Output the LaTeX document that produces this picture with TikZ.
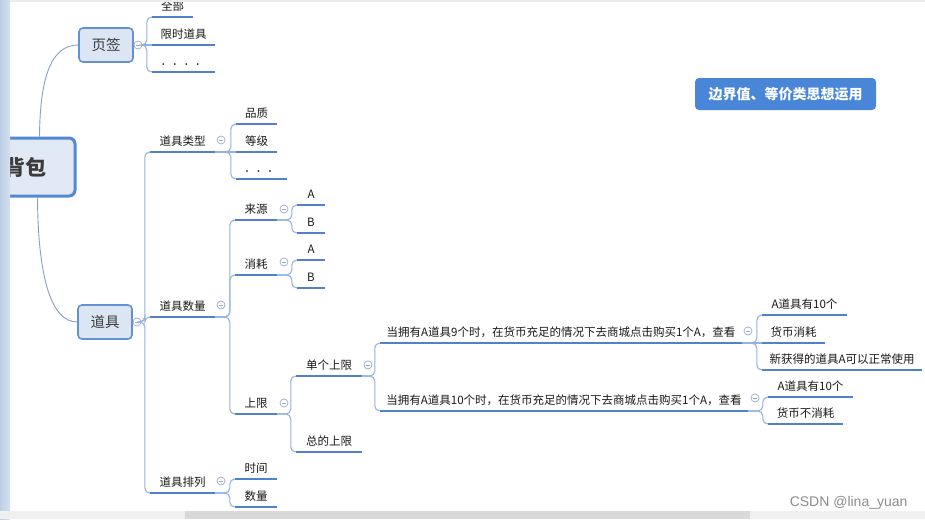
\documentclass[tikz,border=0pt]{standalone}
\usepackage{fontspec}
\setmainfont{Noto Sans CJK SC}
\newfontfamily\csdnfont{Liberation Sans}
\usetikzlibrary{positioning,calc}

\definecolor{ulblue}{RGB}{80,130,204}
\definecolor{brblue}{RGB}{150,178,222}
\definecolor{lkgray}{RGB}{138,160,192}
\definecolor{foldc}{RGB}{150,170,205}
\definecolor{boxfill}{RGB}{219,229,243}
\definecolor{boxdraw}{RGB}{100,145,210}
\definecolor{rootdraw}{RGB}{84,136,210}
\definecolor{tagblue}{RGB}{74,134,216}
\definecolor{txt}{RGB}{25,25,25}

\begin{document}
\begin{tikzpicture}[
    x=1pt, y=-1pt,
    topic/.style={anchor=south, inner xsep=0pt, inner ysep=4pt, text height=9pt,
                  text depth=2pt, text=txt, font=\fontsize{11.5}{13}\selectfont},
    mainbox/.style={draw=boxdraw, line width=1.6pt, fill=boxfill, rounded corners=4pt,
                    minimum width=54pt, minimum height=34pt, text=txt!85,
                    font=\fontsize{14.5}{16}\selectfont},
    rootbox/.style={draw=rootdraw, line width=3pt, fill=boxfill!85!white, rounded corners=6pt,
                    minimum width=99pt, minimum height=58pt, text=txt!85,
                    font=\fontsize{21}{24}\selectfont\bfseries},
    tagbox/.style={fill=tagblue, rounded corners=4pt, minimum width=181pt, minimum height=32pt,
                   text=white, font=\fontsize{14}{16}\selectfont\bfseries},
    fold/.style={circle, draw=foldc, fill=white, line width=0.7pt, minimum size=8pt, inner sep=0pt,
                 path picture={\draw[foldc, line width=0.7pt]
                     ([xshift=-2.2pt]path picture bounding box.center) --
                     ([xshift=2.2pt]path picture bounding box.center);}},
    uline/.style={ulblue, line width=2.3pt},
    branch/.style={brblue, line width=1.1pt, rounded corners=5pt},
    link/.style={lkgray, line width=0.9pt},
]
\useasboundingbox (0,0) rectangle (925,519);
\fill[white] (0,0) rectangle (925,519);

% main topics
\node[rootbox] (root) at (25.5,167) {背包};
\node[mainbox] (tab) at (106,45) {页签};
\node[mainbox] (item) at (105,322) {道具};
\node[fold] (f_tab) at (138,45) {};
\node[fold] (f_item) at (137,322) {};
\draw[link] ([xshift=-37pt]root.north east) .. controls (40,80) and (50,45) .. (tab.west);
\draw[link] ([xshift=-39pt]root.south east) .. controls (38,280) and (52,322) .. (item.west);

% tab children
\node[topic, minimum width=41pt] (t_all) at (172.5,17) {全部};
\node[topic, minimum width=63pt] (t_limit) at (183.5,45) {限时道具};
\node[topic, minimum width=63pt] (t_more) at (183.5,72) {．．．．};

% item children
\node[topic, minimum width=65pt] (type) at (182.5,152) {道具类型};
\node[topic, minimum width=65pt] (count) at (182.5,317) {道具数量};
\node[topic, minimum width=65pt] (sort) at (182.5,493) {道具排列};
\node[fold] (f_type) at (221,140) {};
\node[fold] (f_count) at (221,305) {};
\node[fold] (f_sort) at (221,481) {};

% type
\node[topic, minimum width=41pt] (quality) at (256.5,124) {品质};
\node[topic, minimum width=41pt] (level) at (256.5,152) {等级};
\node[topic, minimum width=51pt] (tmore) at (261.5,179) {．．．};

% count
\node[topic, minimum width=42pt] (source) at (256,220) {来源};
\node[topic, minimum width=42pt] (consume) at (256,275) {消耗};
\node[topic, minimum width=42pt] (limit) at (256,414) {上限};
\node[fold] (f_src) at (284,209) {};
\node[fold] (f_con) at (284,262) {};
\node[fold] (f_lim) at (284,403) {};
\node[topic, minimum width=28pt] (srcA) at (311,205) {A};
\node[topic, minimum width=28pt] (srcB) at (311,233) {B};
\node[topic, minimum width=28pt] (conA) at (311,260) {A};
\node[topic, minimum width=28pt] (conB) at (311,288) {B};

% limit
\node[topic, minimum width=66pt] (single) at (329,376) {单个上限};
\node[topic, minimum width=66pt] (total) at (329,452) {总的上限};
\node[fold] (f_single) at (368,365) {};
\node[topic, minimum width=362pt] (case9) at (561,343) {当拥有A道具9个时，在货币充足的情况下去商城点击购买1个A，查看};
\node[topic, minimum width=368pt] (case10) at (564,411) {当拥有A道具10个时，在货币充足的情况下去商城点击购买1个A，查看};
\node[fold] (f_case9) at (748,331) {};
\node[fold] (f_case10) at (755,398) {};
\node[topic, minimum width=85pt] (r9a) at (804.5,315) {A道具有10个};
\node[topic, minimum width=63pt] (r9b) at (793.5,343) {货币消耗};
\node[topic, minimum width=160pt] (r9c) at (842,370) {新获得的道具A可以正常使用};
\node[topic, minimum width=85pt] (r10a) at (810.5,397) {A道具有10个};
\node[topic, minimum width=75pt] (r10b) at (805.5,424) {货币不消耗};

% sort
\node[topic, minimum width=42pt] (time) at (256,479) {时间};
\node[topic, minimum width=42pt] (num) at (256,507) {数量};

% note
\node[tagbox] (note) at (785.5,94) {边界值、等价类思想运用};

% underlines
\foreach \n in {t_all,t_limit,t_more,type,count,sort,quality,level,tmore,source,consume,limit,
                srcA,srcB,conA,conB,single,total,case9,case10,r9a,r9b,r9c,r10a,r10b,time,num}
  \draw[uline] (\n.south west) -- (\n.south east);

% branches
\foreach \a/\b in {f_tab.east/t_all, f_tab.east/t_more,
                   f_item.east/type, f_item.east/count, f_item.east/sort,
                   type.south east/quality, type.south east/tmore,
                   count.south east/source, count.south east/consume, count.south east/limit,
                   source.south east/srcA, source.south east/srcB,
                   consume.south east/conA, consume.south east/conB,
                   limit.south east/single, limit.south east/total,
                   single.south east/case9, single.south east/case10,
                   case9.south east/r9a, case9.south east/r9c,
                   case10.south east/r10a, case10.south east/r10b,
                   sort.south east/time, sort.south east/num}
  \draw[branch] (\a) -| ([xshift=-5pt]\b.south west) -- (\b.south west);
\foreach \a/\b in {f_tab.east/t_limit, type.south east/level, case9.south east/r9b}
  \draw[branch] (\a) -- (\b.south west);

% window edges
\shade[left color={rgb,255:red,188;green,206;blue,231}, right color={rgb,255:red,214;green,225;blue,240}]
  (0,0) rectangle (10,519);
\fill[gray!15] (10,0) rectangle (925,2);
\fill[gray!12] (0,511) rectangle (925,519);
\fill[gray!30] (185,511) rectangle (750,519);
\node[font=\csdnfont\fontsize{14}{16}\selectfont, text=gray!90, anchor=east] (csdn) at (911,503) {CSDN @lina\_yuan};
\end{tikzpicture}
\end{document}
